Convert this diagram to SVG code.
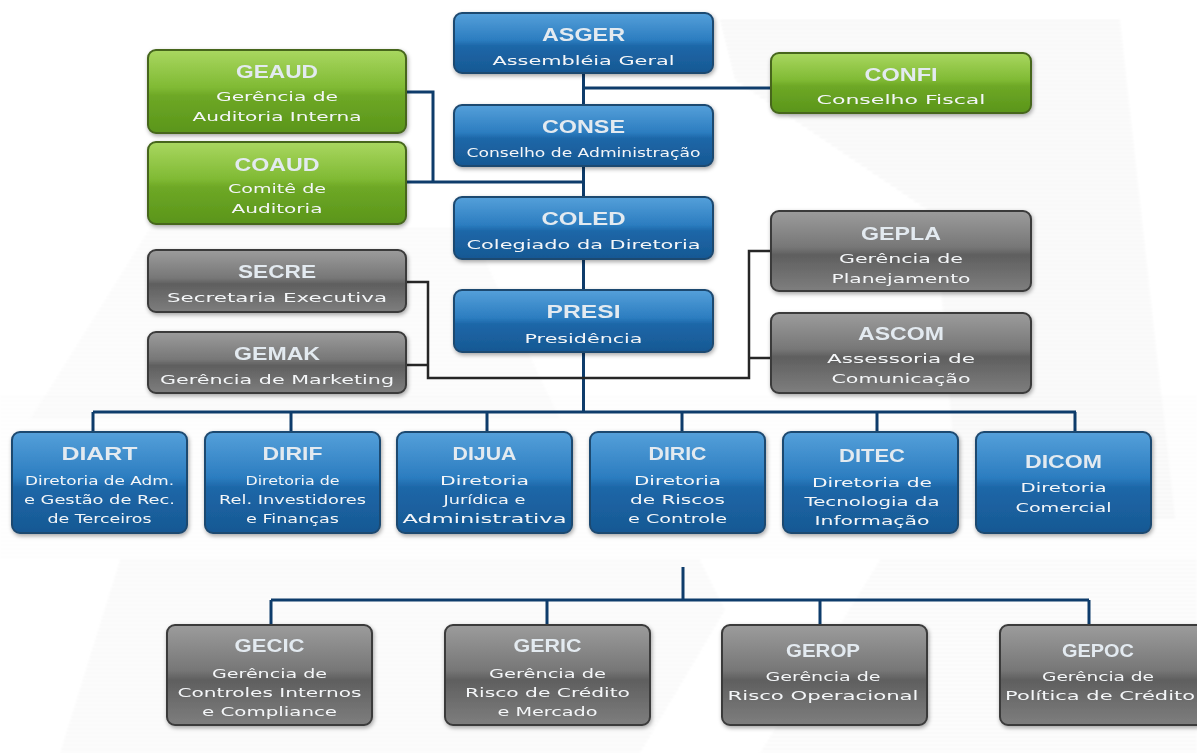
<svg xmlns="http://www.w3.org/2000/svg" width="1197" height="753" viewBox="0 0 1197 753">
<defs>
<style>
.t{font-family:"Liberation Sans",Arial,sans-serif;font-weight:bold;font-size:18px;text-anchor:middle;fill:#e3eaf0}
.s{font-family:"DejaVu Sans","Liberation Sans",sans-serif;font-size:13px;text-anchor:middle;fill:#f4f6f8}
.bb{fill:url(#blueG);stroke:#1f4a70;stroke-width:2}
.gb{fill:url(#grayG);stroke:#3a3a3a;stroke-width:2}
.nb{fill:url(#greenG);stroke:#46661f;stroke-width:2}
.nv{fill:none;stroke:#0e3c6b;stroke-width:3}
.dk{fill:none;stroke:#262626;stroke-width:2.5}
.bg{fill:url(#stripes)}
</style>
<pattern id="stripes" width="6" height="4" patternUnits="userSpaceOnUse">
<rect width="6" height="4" fill="#ffffff"/>
<rect width="6" height="2" fill="#e4e4e4"/>
</pattern>
<linearGradient id="blueG" x1="0" y1="0" x2="0" y2="1">
<stop offset="0" stop-color="#55a0da"/>
<stop offset="0.45" stop-color="#2c7dc0"/>
<stop offset="0.55" stop-color="#1d67a8"/>
<stop offset="1" stop-color="#175893"/>
</linearGradient>
<linearGradient id="grayG" x1="0" y1="0" x2="0" y2="1">
<stop offset="0" stop-color="#9c9c9c"/>
<stop offset="0.45" stop-color="#777777"/>
<stop offset="0.55" stop-color="#5f5f5f"/>
<stop offset="1" stop-color="#7e7e7e"/>
</linearGradient>
<linearGradient id="greenG" x1="0" y1="0" x2="0" y2="1">
<stop offset="0" stop-color="#a9d760"/>
<stop offset="0.45" stop-color="#80ba34"/>
<stop offset="0.55" stop-color="#6ea826"/>
<stop offset="1" stop-color="#5a951a"/>
</linearGradient>
<filter id="sh" x="-10%" y="-10%" width="120%" height="130%">
<feDropShadow dx="1" dy="2" stdDeviation="2" flood-color="#000" flood-opacity="0.35"/>
</filter>
<filter id="soft" x="-5%" y="-5%" width="110%" height="110%">
<feGaussianBlur stdDeviation="1.2"/>
</filter>
</defs>
<rect width="1197" height="753" fill="#ffffff"/>
<g id="background" filter="url(#soft)">
<polygon class="bg" opacity="0.4" points="720,20 1120,20 1175,520 960,520 935,215 735,80"/>
<polygon class="bg" opacity="0.25" points="150,228 470,228 560,420 30,420"/>
<polygon class="bg" opacity="0.15" points="0,395 1197,395 1197,560 0,560"/>
<polygon class="bg" opacity="0.35" points="120,560 700,560 725,610 640,753 60,753"/>
<polygon class="bg" opacity="0.3" points="880,560 1197,560 1197,753 760,753"/>
</g>
<g id="connectors">
<path class="nv" d="M583.5,73V105M583.5,88H771M583.5,166V197M406,92H433V182M406,182H583.5M583.5,259V290M583.5,352V412"/>
<path class="nv" d="M93,412H1076M93,412V432M291,412V432M487,412V432M682,412V432M877,412V432M1075,412V432"/>
<path class="dk" d="M406,282H428V378H749V251H771M406,365H428M749,358H771"/>
<path class="nv" d="M683,567V600M271,600H1089M271,600V625M547,600V625M820,600V625M1089,600V625"/>
</g>
<g id="ASGER" filter="url(#sh)"><rect class="bb" x="454" y="13" width="259" height="60" rx="8"/>
<text class="t" x="583.5" y="41" textLength="83" lengthAdjust="spacingAndGlyphs">ASGER</text>
<text class="s" x="583.5" y="65" textLength="182" lengthAdjust="spacingAndGlyphs">Assembléia Geral</text></g>
<g id="CONSE" filter="url(#sh)"><rect class="bb" x="454" y="105" width="259" height="61" rx="8"/>
<text class="t" x="583.5" y="133" textLength="83" lengthAdjust="spacingAndGlyphs">CONSE</text>
<text class="s" x="583.5" y="157" textLength="234" lengthAdjust="spacingAndGlyphs">Conselho de Administração</text></g>
<g id="COLED" filter="url(#sh)"><rect class="bb" x="454" y="197" width="259" height="62" rx="8"/>
<text class="t" x="583.5" y="225" textLength="84" lengthAdjust="spacingAndGlyphs">COLED</text>
<text class="s" x="583.5" y="249" textLength="234" lengthAdjust="spacingAndGlyphs">Colegiado da Diretoria</text></g>
<g id="PRESI" filter="url(#sh)"><rect class="bb" x="454" y="290" width="259" height="62" rx="8"/>
<text class="t" x="583.5" y="318" textLength="74" lengthAdjust="spacingAndGlyphs">PRESI</text>
<text class="s" x="583.5" y="343" textLength="118" lengthAdjust="spacingAndGlyphs">Presidência</text></g>
<g id="GEAUD" filter="url(#sh)"><rect class="nb" x="148" y="50" width="258" height="83" rx="8"/>
<text class="t" x="277" y="78" textLength="82" lengthAdjust="spacingAndGlyphs">GEAUD</text>
<text class="s" x="277" y="101" textLength="122" lengthAdjust="spacingAndGlyphs">Gerência de</text>
<text class="s" x="277" y="121" textLength="169" lengthAdjust="spacingAndGlyphs">Auditoria Interna</text></g>
<g id="COAUD" filter="url(#sh)"><rect class="nb" x="148" y="142" width="258" height="82" rx="8"/>
<text class="t" x="277" y="171" textLength="85" lengthAdjust="spacingAndGlyphs">COAUD</text>
<text class="s" x="277" y="193" textLength="98" lengthAdjust="spacingAndGlyphs">Comitê de</text>
<text class="s" x="277" y="213" textLength="91" lengthAdjust="spacingAndGlyphs">Auditoria</text></g>
<g id="CONFI" filter="url(#sh)"><rect class="nb" x="771" y="53" width="260" height="60" rx="8"/>
<text class="t" x="901" y="81" textLength="73" lengthAdjust="spacingAndGlyphs">CONFI</text>
<text class="s" x="901" y="104" textLength="169" lengthAdjust="spacingAndGlyphs">Conselho Fiscal</text></g>
<g id="SECRE" filter="url(#sh)"><rect class="gb" x="148" y="250" width="258" height="62" rx="8"/>
<text class="t" x="277" y="278" textLength="78" lengthAdjust="spacingAndGlyphs">SECRE</text>
<text class="s" x="277" y="302" textLength="220" lengthAdjust="spacingAndGlyphs">Secretaria Executiva</text></g>
<g id="GEMAK" filter="url(#sh)"><rect class="gb" x="148" y="332" width="258" height="61" rx="8"/>
<text class="t" x="277" y="360" textLength="86" lengthAdjust="spacingAndGlyphs">GEMAK</text>
<text class="s" x="277" y="384" textLength="234" lengthAdjust="spacingAndGlyphs">Gerência de Marketing</text></g>
<g id="GEPLA" filter="url(#sh)"><rect class="gb" x="771" y="211" width="260" height="80" rx="8"/>
<text class="t" x="901" y="240" textLength="80" lengthAdjust="spacingAndGlyphs">GEPLA</text>
<text class="s" x="901" y="263" textLength="124" lengthAdjust="spacingAndGlyphs">Gerência de</text>
<text class="s" x="901" y="283" textLength="139" lengthAdjust="spacingAndGlyphs">Planejamento</text></g>
<g id="ASCOM" filter="url(#sh)"><rect class="gb" x="771" y="313" width="260" height="80" rx="8"/>
<text class="t" x="901" y="340" textLength="86" lengthAdjust="spacingAndGlyphs">ASCOM</text>
<text class="s" x="901" y="363" textLength="148" lengthAdjust="spacingAndGlyphs">Assessoria de</text>
<text class="s" x="901" y="383" textLength="139" lengthAdjust="spacingAndGlyphs">Comunicação</text></g>
<g id="DIART" filter="url(#sh)"><rect class="bb" x="12" y="432" width="175" height="101" rx="8"/>
<text class="t" x="99.5" y="460" textLength="76" lengthAdjust="spacingAndGlyphs">DIART</text>
<text class="s" x="99.5" y="485" textLength="149" lengthAdjust="spacingAndGlyphs">Diretoria de Adm.</text>
<text class="s" x="99.5" y="504" textLength="151" lengthAdjust="spacingAndGlyphs">e Gestão de Rec.</text>
<text class="s" x="99.5" y="523" textLength="104" lengthAdjust="spacingAndGlyphs">de Terceiros</text></g>
<g id="DIRIF" filter="url(#sh)"><rect class="bb" x="205" y="432" width="175" height="101" rx="8"/>
<text class="t" x="292.5" y="460" textLength="60" lengthAdjust="spacingAndGlyphs">DIRIF</text>
<text class="s" x="292.5" y="485" textLength="94" lengthAdjust="spacingAndGlyphs">Diretoria de</text>
<text class="s" x="292.5" y="504" textLength="147" lengthAdjust="spacingAndGlyphs">Rel. Investidores</text>
<text class="s" x="292.5" y="523" textLength="93" lengthAdjust="spacingAndGlyphs">e Finanças</text></g>
<g id="DIJUA" filter="url(#sh)"><rect class="bb" x="397" y="432" width="175" height="101" rx="8"/>
<text class="t" x="484.5" y="460" textLength="64" lengthAdjust="spacingAndGlyphs">DIJUA</text>
<text class="s" x="484.5" y="485" textLength="89" lengthAdjust="spacingAndGlyphs">Diretoria</text>
<text class="s" x="484.5" y="504" textLength="82" lengthAdjust="spacingAndGlyphs">Jurídica e</text>
<text class="s" x="484.5" y="523" textLength="164" lengthAdjust="spacingAndGlyphs">Administrativa</text></g>
<g id="DIRIC" filter="url(#sh)"><rect class="bb" x="590" y="432" width="175" height="101" rx="8"/>
<text class="t" x="677.5" y="460" textLength="58" lengthAdjust="spacingAndGlyphs">DIRIC</text>
<text class="s" x="677.5" y="485" textLength="87" lengthAdjust="spacingAndGlyphs">Diretoria</text>
<text class="s" x="677.5" y="504" textLength="95" lengthAdjust="spacingAndGlyphs">de Riscos</text>
<text class="s" x="677.5" y="523" textLength="99" lengthAdjust="spacingAndGlyphs">e Controle</text></g>
<g id="DITEC" filter="url(#sh)"><rect class="bb" x="783" y="432" width="175" height="101" rx="8"/>
<text class="t" x="872" y="462" textLength="66" lengthAdjust="spacingAndGlyphs">DITEC</text>
<text class="s" x="872" y="487" textLength="120" lengthAdjust="spacingAndGlyphs">Diretoria de</text>
<text class="s" x="872" y="506" textLength="135" lengthAdjust="spacingAndGlyphs">Tecnologia da</text>
<text class="s" x="872" y="525" textLength="115" lengthAdjust="spacingAndGlyphs">Informação</text></g>
<g id="DICOM" filter="url(#sh)"><rect class="bb" x="976" y="432" width="175" height="101" rx="8"/>
<text class="t" x="1063.5" y="468" textLength="77" lengthAdjust="spacingAndGlyphs">DICOM</text>
<text class="s" x="1063.5" y="492" textLength="86" lengthAdjust="spacingAndGlyphs">Diretoria</text>
<text class="s" x="1063.5" y="512" textLength="96" lengthAdjust="spacingAndGlyphs">Comercial</text></g>
<g id="GECIC" filter="url(#sh)"><rect class="gb" x="167" y="625" width="205" height="100" rx="8"/>
<text class="t" x="269.5" y="652" textLength="70" lengthAdjust="spacingAndGlyphs">GECIC</text>
<text class="s" x="269.5" y="678" textLength="115" lengthAdjust="spacingAndGlyphs">Gerência de</text>
<text class="s" x="269.5" y="697" textLength="184" lengthAdjust="spacingAndGlyphs">Controles Internos</text>
<text class="s" x="269.5" y="716" textLength="135" lengthAdjust="spacingAndGlyphs">e Compliance</text></g>
<g id="GERIC" filter="url(#sh)"><rect class="gb" x="445" y="625" width="205" height="100" rx="8"/>
<text class="t" x="547.5" y="652" textLength="68" lengthAdjust="spacingAndGlyphs">GERIC</text>
<text class="s" x="547.5" y="678" textLength="117" lengthAdjust="spacingAndGlyphs">Gerência de</text>
<text class="s" x="547.5" y="697" textLength="165" lengthAdjust="spacingAndGlyphs">Risco de Crédito</text>
<text class="s" x="547.5" y="716" textLength="100" lengthAdjust="spacingAndGlyphs">e Mercado</text></g>
<g id="GEROP" filter="url(#sh)"><rect class="gb" x="722" y="625" width="205" height="100" rx="8"/>
<text class="t" x="823" y="657" textLength="74" lengthAdjust="spacingAndGlyphs">GEROP</text>
<text class="s" x="823" y="681" textLength="115" lengthAdjust="spacingAndGlyphs">Gerência de</text>
<text class="s" x="823" y="700" textLength="191" lengthAdjust="spacingAndGlyphs">Risco Operacional</text></g>
<g id="GEPOC" filter="url(#sh)"><rect class="gb" x="1000" y="625" width="205" height="100" rx="8"/>
<text class="t" x="1098" y="657" textLength="72" lengthAdjust="spacingAndGlyphs">GEPOC</text>
<text class="s" x="1098" y="681" textLength="112" lengthAdjust="spacingAndGlyphs">Gerência de</text>
<text class="s" x="1100" y="700" textLength="190" lengthAdjust="spacingAndGlyphs">Política de Crédito</text></g>
</svg>
